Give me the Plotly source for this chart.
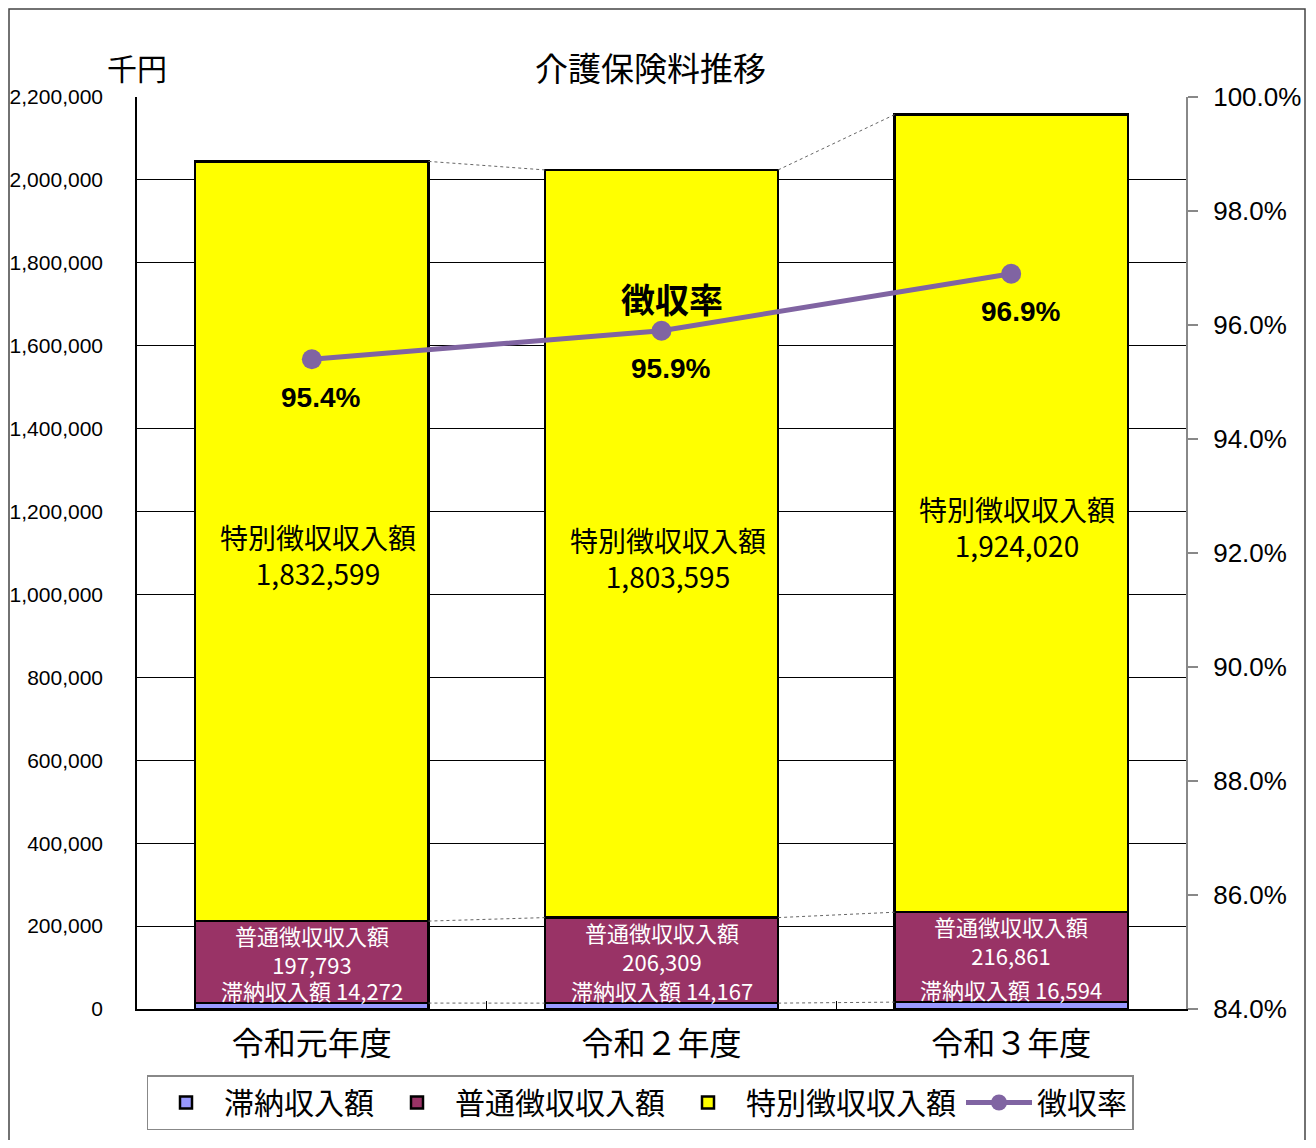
import plotly.graph_objects as go

categories = ["令和元年度", "令和２年度", "令和３年度"]
tainou = [14272, 14167, 16594]          # 滞納収入額
futsu = [197793, 206309, 216861]        # 普通徴収収入額
tokubetsu = [1832599, 1803595, 1924020] # 特別徴収収入額
rate = [0.954, 0.959, 0.969]            # 徴収率
series_names = ["滞納収入額", "普通徴収収入額", "特別徴収収入額", "徴収率"]
left_ticks = list(range(0, 2200001, 200000))

JP = "Noto Sans CJK JP"
NUM = "Liberation Sans"
BAR_W = 0.667
xs = list(range(len(categories)))

# target plot area in page px; convert page px to paper coords
PL, PT, PW, PH = 137, 97, 1049, 912
OX, OY = 8, 8  # page offset of the figure
def px(xp):
    return (xp - PL) / PW
def py(yp):
    return (PT + PH - yp) / PH

fig = go.Figure()
colors = ["#9999FF", "#993366", "#FFFF00"]
for name, vals, col in zip(series_names[:3], [tainou, futsu, tokubetsu], colors):
    fig.add_trace(go.Bar(
        x=xs, y=vals, name=name, width=BAR_W,
        marker=dict(color=col, line=dict(color="black", width=2.5)),
        hoverinfo="skip"))

# series lines (Excel style) between stacked bar tops
cum1 = tainou
cum2 = [a + b for a, b in zip(tainou, futsu)]
cum3 = [a + b for a, b in zip(cum2, tokubetsu)]
for cum in (cum1, cum2, cum3):
    sx, sy = [], []
    for i in range(len(xs) - 1):
        sx += [xs[i] + BAR_W / 2, xs[i + 1] - BAR_W / 2, None]
        sy += [cum[i], cum[i + 1], None]
    fig.add_trace(go.Scatter(x=sx, y=sy, mode="lines", showlegend=False,
                             line=dict(color="#666666", width=1, dash="dot"),
                             hoverinfo="skip"))

fig.add_trace(go.Scatter(
    x=xs, y=rate, name=series_names[3], yaxis="y2", mode="lines+markers",
    line=dict(color="#8064A2", width=5),
    marker=dict(color="#8064A2", size=20), hoverinfo="skip"))

ann = []
for i in xs:
    ann.append(dict(x=i, y=(cum2[i] + cum3[i]) / 2, xref="x", yref="y",
                    text=f"特別徴収収入額<br>{tokubetsu[i]:,}", showarrow=False,
                    xshift=6, yshift=-14,
                    font=dict(family=JP, size=28, color="black")))
    ann.append(dict(x=i, y=cum2[i], xref="x", yref="y", yanchor="top",
                    text=f"普通徴収収入額<br>{futsu[i]:,}", showarrow=False,
                    yshift=4, font=dict(family=JP, size=22, color="white")))
    ann.append(dict(x=i, y=cum1[i], xref="x", yref="y", yanchor="bottom",
                    text=f"滞納収入額 {tainou[i]:,}", showarrow=False,
                    yshift=-5, font=dict(family=JP, size=22, color="white")))
    ann.append(dict(x=i, y=rate[i], xref="x", yref="y2",
                    text=f"{rate[i]*100:.1f}%", showarrow=False,
                    xshift=9, yshift=-38,
                    font=dict(family=NUM, size=28, color="black", weight="bold")))
ann.append(dict(x=1, y=rate[1], xref="x", yref="y2", text="徴収率", showarrow=False,
                xshift=10, yshift=32,
                font=dict(family=JP, size=34, color="black", weight="bold")))
ann.append(dict(x=px(137), y=py(67), xref="paper", yref="paper", text="千円",
                showarrow=False, xanchor="center", yanchor="middle",
                font=dict(family=JP, size=30, color="black")))
ann.append(dict(x=px(650), y=py(67), xref="paper", yref="paper", text="介護保険料推移",
                showarrow=False, xanchor="center", yanchor="middle",
                font=dict(family=JP, size=33, color="black")))

W, H = 1316, 1132
ml, mt = PL - OX, PT - OY
fig.update_layout(
    width=W, height=H,
    margin=dict(l=ml, r=W - ml - PW, t=mt, b=H - mt - PH, autoexpand=False),
    paper_bgcolor="white", plot_bgcolor="white",
    barmode="stack",
    xaxis=dict(range=[-0.5, 2.5], tickvals=xs, ticktext=categories,
               automargin=False,
               showline=True, linecolor="black", linewidth=1.5, ticks="",
               showgrid=False, zeroline=False,
               tickfont=dict(family=JP, size=32, color="black"),
               ticklabelstandoff=6,
               minor=dict(tickvals=[0.5, 1.5], ticks="inside", ticklen=8,
                          tickcolor="black", showgrid=False)),
    yaxis=dict(range=[0, 2200000], tickvals=left_ticks, tickformat=",",
               automargin=False,
               showline=True, linecolor="black", linewidth=1.5,
               showgrid=True, gridcolor="black", gridwidth=1, zeroline=False,
               ticks="", ticklabelstandoff=28,
               tickfont=dict(family=NUM, size=21, color="black")),
    yaxis2=dict(range=[0.84, 1.0], dtick=0.02, tickformat=".1%",
                automargin=False,
                overlaying="y", side="right", showgrid=False, zeroline=False,
                showline=True, linecolor="#888888", linewidth=2,
                ticks="outside", ticklen=10, tickcolor="#888888", tickwidth=2,
                ticklabelstandoff=10,
                tickfont=dict(family=NUM, size=26, color="black")),
    legend=dict(orientation="h", x=px(640), xanchor="center",
                y=py(1075), yanchor="top",
                bordercolor="#888888", borderwidth=1.5,
                font=dict(family=JP, size=30, color="black"),
                itemwidth=66, traceorder="normal"),
    annotations=ann,
    shapes=[dict(type="rect", xref="paper", yref="paper",
                 x0=px(OX + 1), x1=px(1305), y0=py(1170), y1=py(OY + 1),
                 line=dict(color="#444444", width=1.5), layer="below")],
)

fig.write_html("out.html")
